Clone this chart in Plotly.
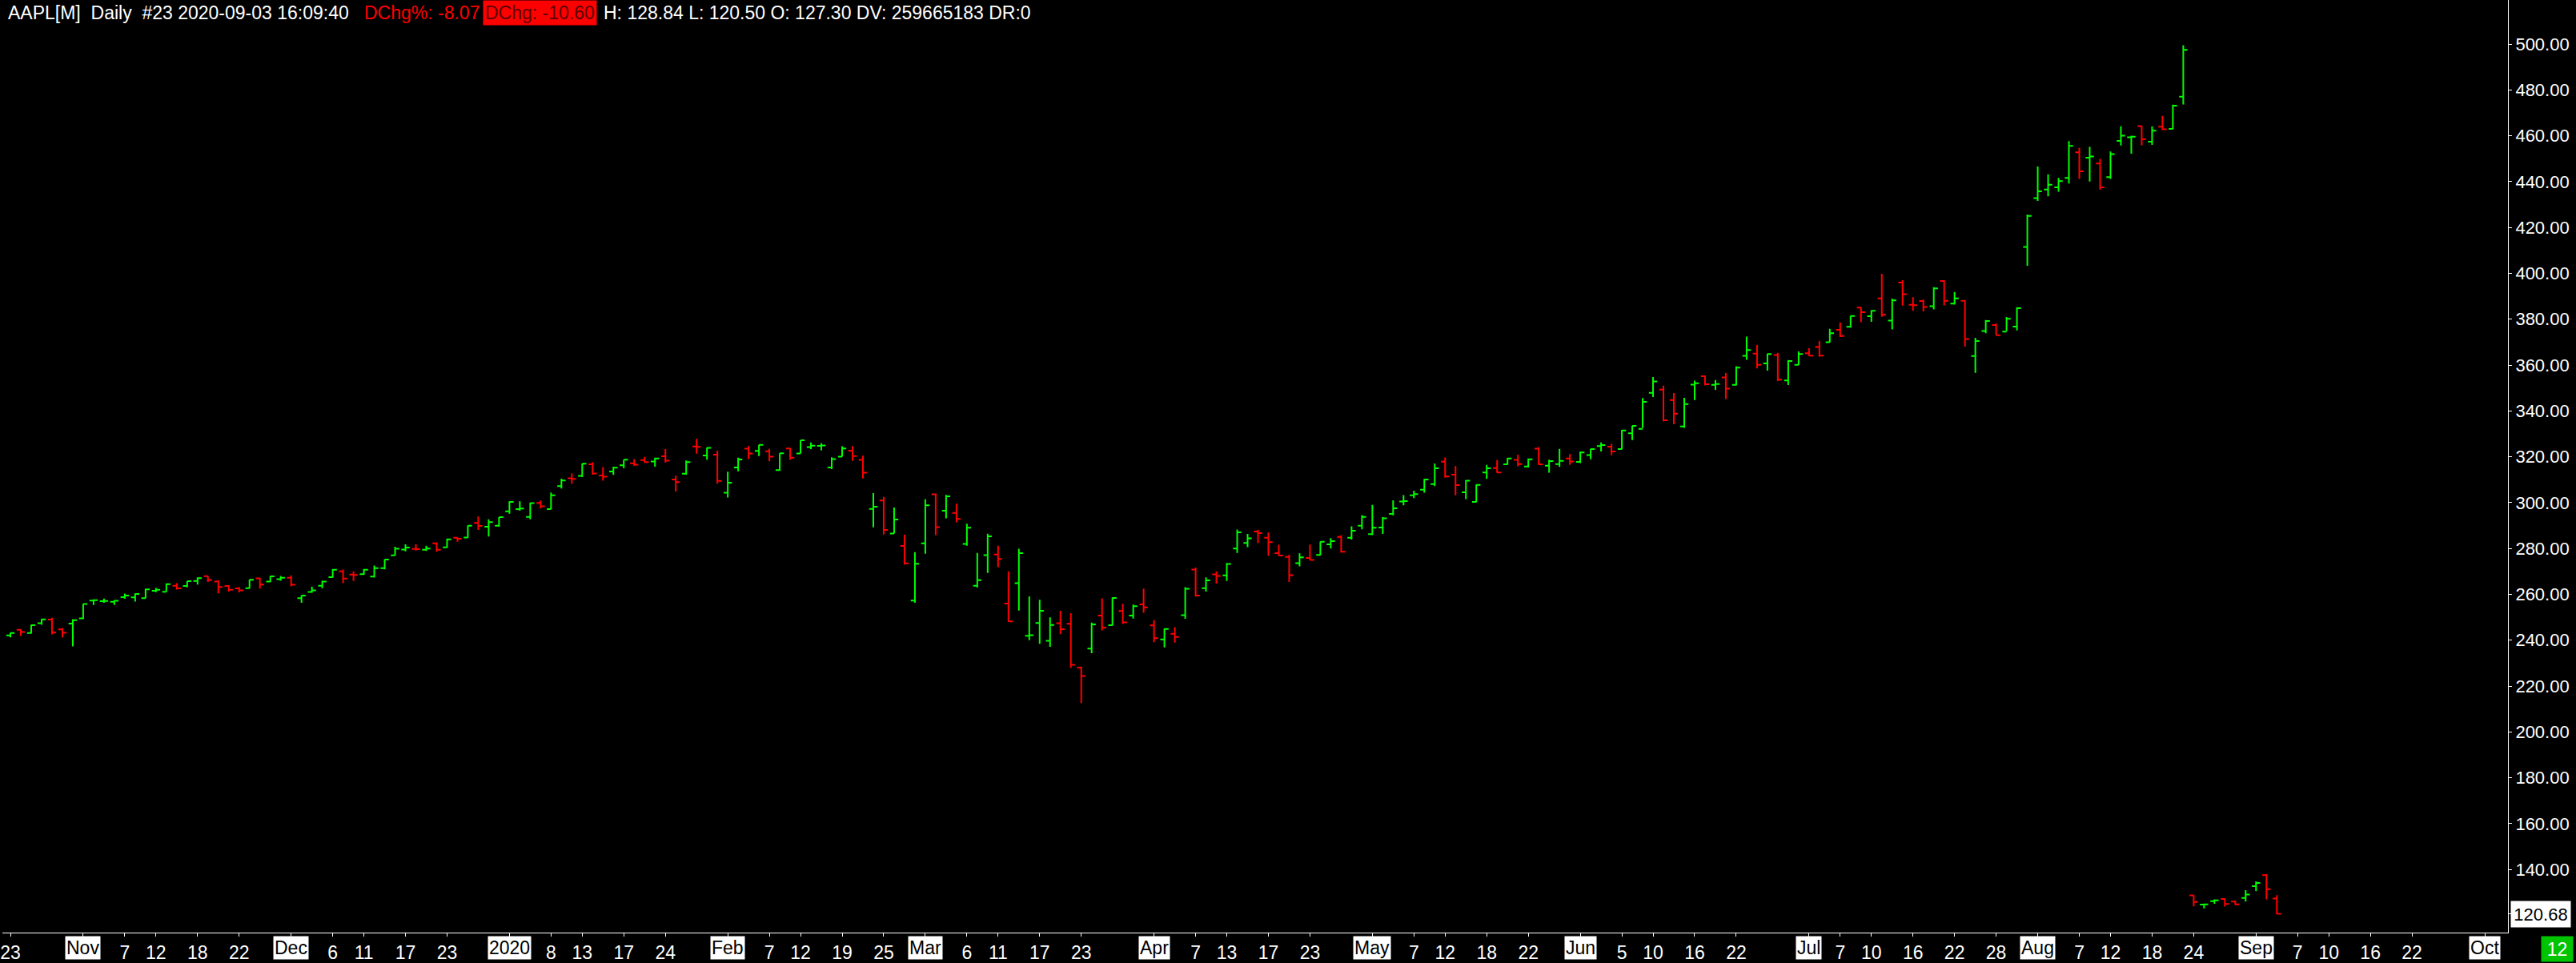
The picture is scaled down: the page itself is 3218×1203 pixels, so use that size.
import plotly.graph_objects as go
import pandas as pd

# ---------------- data (AAPL[M] daily) ----------------
dates = [
    # Oct 2019
    "2019-10-23", "2019-10-24", "2019-10-25", "2019-10-28", "2019-10-29", "2019-10-30", "2019-10-31",
    # Nov 2019
    "2019-11-01", "2019-11-04", "2019-11-05", "2019-11-06", "2019-11-07", "2019-11-08", "2019-11-11",
    "2019-11-12", "2019-11-13", "2019-11-14", "2019-11-15", "2019-11-18", "2019-11-19", "2019-11-20",
    "2019-11-21", "2019-11-22", "2019-11-25", "2019-11-26", "2019-11-27", "2019-11-29",
    # Dec 2019
    "2019-12-02", "2019-12-03", "2019-12-04", "2019-12-05", "2019-12-06", "2019-12-09", "2019-12-10",
    "2019-12-11", "2019-12-12", "2019-12-13", "2019-12-16", "2019-12-17", "2019-12-18", "2019-12-19",
    "2019-12-20", "2019-12-23", "2019-12-24", "2019-12-26", "2019-12-27", "2019-12-30", "2019-12-31",
    # Jan 2020
    "2020-01-02", "2020-01-03", "2020-01-06", "2020-01-07", "2020-01-08", "2020-01-09", "2020-01-10",
    "2020-01-13", "2020-01-14", "2020-01-15", "2020-01-16", "2020-01-17", "2020-01-21", "2020-01-22",
    "2020-01-23", "2020-01-24", "2020-01-27", "2020-01-28", "2020-01-29", "2020-01-30", "2020-01-31",
    # Feb 2020
    "2020-02-03", "2020-02-04", "2020-02-05", "2020-02-06", "2020-02-07", "2020-02-10", "2020-02-11",
    "2020-02-12", "2020-02-13", "2020-02-14", "2020-02-18", "2020-02-19", "2020-02-20", "2020-02-21",
    "2020-02-24", "2020-02-25", "2020-02-26", "2020-02-27", "2020-02-28",
    # Mar 2020
    "2020-03-02", "2020-03-03", "2020-03-04", "2020-03-05", "2020-03-06", "2020-03-09", "2020-03-10",
    "2020-03-11", "2020-03-12", "2020-03-13", "2020-03-16", "2020-03-17", "2020-03-18", "2020-03-19",
    "2020-03-20", "2020-03-23", "2020-03-24", "2020-03-25", "2020-03-26", "2020-03-27", "2020-03-30",
    "2020-03-31",
    # Apr 2020
    "2020-04-01", "2020-04-02", "2020-04-03", "2020-04-06", "2020-04-07", "2020-04-08", "2020-04-09",
    "2020-04-13", "2020-04-14", "2020-04-15", "2020-04-16", "2020-04-17", "2020-04-20", "2020-04-21",
    "2020-04-22", "2020-04-23", "2020-04-24", "2020-04-27", "2020-04-28", "2020-04-29", "2020-04-30",
    # May 2020
    "2020-05-01", "2020-05-04", "2020-05-05", "2020-05-06", "2020-05-07", "2020-05-08", "2020-05-11",
    "2020-05-12", "2020-05-13", "2020-05-14", "2020-05-15", "2020-05-18", "2020-05-19", "2020-05-20",
    "2020-05-21", "2020-05-22", "2020-05-26", "2020-05-27", "2020-05-28", "2020-05-29",
    # Jun 2020
    "2020-06-01", "2020-06-02", "2020-06-03", "2020-06-04", "2020-06-05", "2020-06-08", "2020-06-09",
    "2020-06-10", "2020-06-11", "2020-06-12", "2020-06-15", "2020-06-16", "2020-06-17", "2020-06-18",
    "2020-06-19", "2020-06-22", "2020-06-23", "2020-06-24", "2020-06-25", "2020-06-26", "2020-06-29",
    "2020-06-30",
    # Jul 2020
    "2020-07-01", "2020-07-02", "2020-07-06", "2020-07-07", "2020-07-08", "2020-07-09", "2020-07-10",
    "2020-07-13", "2020-07-14", "2020-07-15", "2020-07-16", "2020-07-17", "2020-07-20", "2020-07-21",
    "2020-07-22", "2020-07-23", "2020-07-24", "2020-07-27", "2020-07-28", "2020-07-29", "2020-07-30",
    "2020-07-31",
    # Aug 2020
    "2020-08-03", "2020-08-04", "2020-08-05", "2020-08-06", "2020-08-07", "2020-08-10", "2020-08-11",
    "2020-08-12", "2020-08-13", "2020-08-14", "2020-08-17", "2020-08-18", "2020-08-19", "2020-08-20",
    "2020-08-21",
    # after split
    "2020-08-24", "2020-08-25", "2020-08-26", "2020-08-27", "2020-08-28", "2020-08-31",
    "2020-09-01", "2020-09-02", "2020-09-03",
]

open_ = [
    242.10, 244.51, 243.16, 247.42, 248.97, 244.76, 247.24,
    249.54, 257.33, 257.05, 256.77, 258.74, 258.69, 258.30, 261.55, 261.13, 263.75, 263.68, 265.80,
    267.90, 265.54, 263.69, 262.59, 262.71, 266.94, 265.58, 266.60,
    267.27, 258.31, 261.07, 263.79, 267.48, 270.00, 268.60, 268.81, 267.78, 271.46, 277.00, 279.57,
    279.80, 279.50, 282.23, 280.53, 284.69, 284.82, 291.12, 289.46, 289.93,
    296.24, 297.15, 293.79, 299.84, 297.16, 307.24, 310.60, 311.64, 316.70, 311.85, 313.59, 316.27,
    317.19, 318.58, 317.92, 320.25, 310.06, 312.60, 324.45, 320.54, 320.93,
    304.30, 315.31, 323.52, 322.57, 322.37, 314.18, 323.60, 321.47, 324.19, 324.74, 315.36, 320.00,
    322.63, 318.62, 297.26, 300.95, 286.53, 281.10, 257.26,
    282.28, 303.67, 296.44, 295.52, 282.00, 263.75, 277.14, 277.39, 255.94, 264.89, 241.95, 247.51,
    239.77, 247.39, 247.18, 228.08, 236.36, 250.75, 246.52, 252.75, 250.74, 255.60,
    246.50, 240.34, 242.80, 250.90, 270.80, 262.74, 268.70, 268.31, 280.00, 282.40, 287.38, 284.69,
    277.95, 276.28, 273.61, 275.87, 277.20, 281.80, 285.08, 284.73, 289.96,
    286.25, 289.17, 295.06, 300.46, 303.22, 305.64, 308.10, 317.83, 312.15, 304.51, 300.35, 313.17,
    315.03, 316.68, 318.66, 315.77, 323.50, 316.14, 316.77, 319.25,
    317.75, 320.75, 324.66, 324.39, 323.35, 330.25, 332.14, 347.90, 349.31, 344.72, 333.25, 351.46,
    355.15, 351.41, 354.64, 351.34, 364.00, 365.00, 360.70, 364.41, 353.25, 360.08,
    365.12, 367.85, 370.00, 375.41, 376.72, 385.05, 381.34, 389.06, 379.36, 395.96, 386.25, 387.95,
    385.67, 396.69, 386.77, 387.99, 363.95, 374.84, 377.47, 374.56, 376.75, 411.54,
    432.80, 436.53, 437.51, 441.62, 452.82, 450.40, 447.88, 441.99, 457.72, 459.32, 464.25, 457.41,
    463.93, 463.00, 477.05,
    128.70, 124.70, 126.18, 127.14, 126.01, 127.58, 132.76, 137.59, 127.30,
]

high = [
    243.24, 244.80, 246.73, 249.25, 249.75, 245.30, 249.17,
    255.93, 257.85, 258.19, 257.49, 260.35, 260.44, 262.47, 262.79, 264.78, 264.88, 265.78, 267.43,
    268.00, 266.08, 264.01, 263.18, 266.44, 267.16, 267.98, 268.00,
    268.25, 259.53, 263.31, 265.89, 271.00, 270.80, 270.07, 271.10, 272.56, 275.30, 280.79, 281.77,
    281.90, 281.18, 282.65, 284.25, 284.89, 289.98, 293.97, 292.69, 293.68,
    300.60, 300.58, 299.96, 300.90, 304.44, 310.43, 312.67, 317.07, 317.57, 315.50, 315.70, 318.74,
    319.02, 319.99, 319.56, 323.33, 311.77, 318.40, 327.85, 324.09, 322.68,
    313.49, 319.64, 324.76, 325.22, 323.40, 321.55, 323.90, 327.22, 326.22, 325.98, 319.75, 324.57,
    324.65, 320.45, 304.18, 302.53, 297.88, 286.00, 278.41,
    301.44, 304.00, 303.40, 299.55, 290.82, 278.09, 286.44, 281.22, 270.00, 279.92, 259.08, 257.61,
    250.00, 252.84, 251.83, 228.50, 247.69, 258.25, 258.68, 255.87, 255.52, 262.49,
    248.72, 245.15, 245.70, 263.11, 271.70, 267.37, 270.07, 273.70, 288.25, 286.33, 288.20, 286.95,
    281.68, 277.25, 277.90, 281.75, 283.01, 284.54, 285.83, 289.67, 294.53,
    299.00, 293.69, 301.00, 303.24, 305.17, 310.35, 317.05, 319.69, 315.95, 309.79, 307.90, 316.50,
    318.52, 319.52, 320.89, 319.23, 324.24, 318.71, 323.44, 321.15,
    322.35, 323.44, 326.20, 325.62, 331.75, 333.60, 345.61, 354.77, 351.06, 347.80, 345.68, 353.20,
    355.40, 353.45, 356.56, 359.46, 372.38, 368.79, 365.00, 365.32, 362.17, 365.98,
    367.36, 370.47, 375.78, 378.62, 381.50, 385.27, 383.92, 399.82, 389.02, 396.99, 389.62, 388.59,
    394.00, 397.00, 391.90, 388.31, 371.88, 379.62, 378.20, 380.92, 385.19, 425.66,
    446.55, 443.16, 441.57, 457.65, 454.70, 455.10, 449.93, 453.10, 464.17, 460.00, 464.35, 464.00,
    468.65, 473.57, 499.47,
    128.79, 125.18, 126.99, 127.49, 126.44, 131.00, 134.80, 137.98, 128.84,
]

low = [
    241.22, 241.81, 242.88, 246.72, 242.57, 241.21, 237.26,
    249.16, 255.38, 256.32, 255.37, 258.11, 256.85, 258.28, 260.92, 261.07, 262.10, 263.01, 264.23,
    265.39, 260.40, 261.18, 260.84, 262.52, 262.50, 265.31, 265.90,
    263.45, 256.29, 260.68, 262.73, 267.30, 264.91, 265.86, 268.50, 267.32, 270.93, 276.98, 278.80,
    279.12, 278.95, 278.56, 280.37, 282.92, 284.70, 288.12, 285.22, 289.52,
    295.19, 296.50, 292.75, 297.48, 297.16, 306.20, 308.25, 311.15, 312.17, 309.55, 312.09, 315.00,
    316.00, 317.31, 315.65, 317.52, 304.88, 312.19, 321.38, 318.75, 308.29,
    302.22, 313.63, 318.95, 320.26, 318.00, 313.85, 318.71, 321.47, 323.35, 322.85, 314.61, 320.00,
    318.21, 310.50, 289.23, 286.13, 286.50, 272.96, 256.37,
    277.72, 285.80, 293.13, 291.41, 281.23, 263.00, 269.37, 271.86, 248.00, 252.95, 240.00, 238.40,
    237.12, 242.61, 228.00, 212.61, 234.30, 244.30, 246.36, 247.05, 249.40, 252.00,
    239.13, 236.90, 238.97, 249.38, 259.00, 261.23, 264.70, 265.83, 278.05, 280.63, 282.35, 276.86,
    276.85, 265.43, 272.20, 274.87, 277.00, 279.95, 278.20, 283.89, 288.35,
    285.85, 286.32, 294.46, 298.87, 301.97, 304.29, 307.24, 310.91, 303.21, 301.53, 300.21, 310.32,
    313.01, 316.52, 315.87, 315.35, 316.50, 313.09, 315.63, 316.47,
    317.21, 318.93, 322.30, 320.78, 323.23, 327.32, 332.58, 346.09, 335.48, 334.22, 332.58, 344.72,
    351.09, 349.22, 345.15, 351.15, 362.27, 358.52, 357.57, 353.02, 351.28, 360.00,
    363.91, 363.64, 369.87, 372.23, 376.36, 378.69, 378.82, 381.03, 375.51, 385.96, 383.62, 383.36,
    384.25, 386.00, 386.41, 368.04, 356.58, 373.92, 372.99, 374.85, 375.07, 403.30,
    431.57, 433.55, 435.59, 439.19, 441.17, 440.00, 436.43, 441.19, 455.71, 452.18, 455.85, 456.03,
    462.44, 462.93, 473.60,
    123.94, 123.05, 125.08, 123.83, 124.58, 126.00, 130.53, 127.00, 120.50,
]

close = [
    243.18, 243.58, 246.58, 249.05, 243.29, 243.26, 248.76,
    255.82, 257.50, 257.13, 257.24, 259.43, 260.14, 262.20, 261.96, 264.47, 262.64, 265.76, 267.10,
    266.29, 263.19, 262.01, 261.78, 266.37, 264.29, 267.84, 267.25,
    264.16, 259.45, 261.74, 265.58, 270.71, 266.92, 268.48, 270.77, 271.46, 275.15, 279.86, 280.41,
    279.74, 280.02, 279.44, 284.00, 284.27, 289.91, 289.80, 291.52, 293.65,
    300.35, 297.43, 299.80, 298.39, 303.19, 309.63, 310.33, 316.96, 312.68, 311.34, 315.24, 318.73,
    316.57, 317.70, 319.23, 318.31, 308.95, 317.69, 324.34, 323.87, 309.51,
    308.66, 318.85, 321.45, 325.21, 320.03, 321.55, 319.61, 327.20, 324.87, 324.95, 319.00, 323.62,
    320.30, 313.05, 298.18, 288.08, 292.65, 273.52, 273.36,
    298.81, 289.32, 302.74, 292.92, 289.03, 266.17, 285.34, 275.43, 248.23, 277.97, 242.21, 252.86,
    246.67, 244.78, 229.24, 224.37, 246.88, 245.52, 258.44, 247.74, 254.81, 254.29,
    240.91, 244.93, 241.41, 262.47, 259.43, 266.07, 267.99, 273.25, 287.05, 284.43, 286.69, 282.80,
    276.93, 268.37, 276.10, 275.03, 282.97, 283.17, 278.58, 287.73, 293.80,
    289.07, 293.16, 297.56, 300.63, 303.74, 310.13, 315.01, 311.41, 307.65, 309.54, 307.71, 314.96,
    313.14, 319.23, 316.85, 318.89, 316.73, 318.11, 318.25, 317.94,
    321.85, 323.34, 325.12, 322.32, 331.50, 333.46, 343.99, 352.84, 335.90, 338.80, 342.99, 352.08,
    351.59, 351.73, 349.72, 358.87, 366.53, 360.06, 364.84, 353.63, 361.78, 364.80,
    364.11, 364.11, 373.85, 372.69, 381.37, 383.01, 383.68, 381.91, 388.23, 390.90, 386.09, 385.31,
    393.43, 388.00, 389.09, 371.38, 370.46, 379.24, 373.01, 380.16, 384.76, 425.04,
    435.75, 438.66, 440.25, 455.61, 444.45, 450.91, 437.50, 452.04, 460.04, 459.63, 458.43, 462.25,
    462.83, 473.10, 497.48,
    125.86, 124.83, 126.52, 125.01, 124.81, 129.04, 134.18, 131.40, 120.68,
]

# x-axis labels (date -> label); month labels are drawn boxed
day_tick_dates = ["2019-10-23", "2019-11-07", "2019-11-12", "2019-11-18", "2019-11-22",
                  "2019-12-06", "2019-12-11", "2019-12-17", "2019-12-23",
                  "2020-01-08", "2020-01-13", "2020-01-17", "2020-01-24",
                  "2020-02-07", "2020-02-12", "2020-02-19", "2020-02-25",
                  "2020-03-06", "2020-03-11", "2020-03-17", "2020-03-23",
                  "2020-04-07", "2020-04-13", "2020-04-17", "2020-04-23",
                  "2020-05-07", "2020-05-12", "2020-05-18", "2020-05-22",
                  "2020-06-05", "2020-06-10", "2020-06-16", "2020-06-22",
                  "2020-07-07", "2020-07-10", "2020-07-16", "2020-07-22", "2020-07-28",
                  "2020-08-07", "2020-08-12", "2020-08-18", "2020-08-24",
                  "2020-09-07", "2020-09-10", "2020-09-16", "2020-09-22"]
day_tick_labels = ["23", "7", "12", "18", "22",
                   "6", "11", "17", "23",
                   "8", "13", "17", "24",
                   "7", "12", "19", "25",
                   "6", "11", "17", "23",
                   "7", "13", "17", "23",
                   "7", "12", "18", "22",
                   "5", "10", "16", "22",
                   "7", "10", "16", "22", "28",
                   "7", "12", "18", "24",
                   "7", "10", "16", "22"]
month_tick_dates = ["2019-11-01", "2019-12-02", "2020-01-02", "2020-02-03", "2020-03-02", "2020-04-01",
                    "2020-05-01", "2020-06-01", "2020-07-01", "2020-08-03", "2020-09-01", "2020-10-01"]
month_tick_labels = ["Nov", "Dec", "2020", "Feb", "Mar", "Apr", "May", "Jun", "Jul", "Aug", "Sep", "Oct"]

y_tick_values = [140, 160, 180, 200, 220, 240, 260, 280, 300, 320, 340, 360, 380, 400, 420, 440, 460, 480, 500]
last_price = 120.68

# ---------------- axis calendar (trading bars + future weekdays) ----------------
future_days = [d.strftime("%Y-%m-%d") for d in pd.bdate_range("2020-09-04", "2020-10-09")]
calendar = dates + future_days
pos = {d: i for i, d in enumerate(calendar)}
x = [pos[d] for d in dates]

W, H = 3218, 1203
ML, MR, MT, MB = 0, 85, 0, 37
PW = W - ML - MR
FONT = "Liberation Sans, Arial, sans-serif"
FS = 23

fig = go.Figure()
fig.add_trace(go.Ohlc(
    x=x, open=open_, high=high, low=low, close=close,
    increasing=dict(line=dict(color="#00FF00", width=2)),
    decreasing=dict(line=dict(color="#FF0000", width=2)),
    tickwidth=0.4, showlegend=False, hoverinfo="skip",
))

tickvals = [pos[d] for d in day_tick_dates] + [pos[d] for d in month_tick_dates]
ticktext = day_tick_labels + [""] * len(month_tick_dates)

annotations = []
for d, lab in zip(month_tick_dates, month_tick_labels):
    annotations.append(dict(
        x=pos[d], xref="x", y=0, yref="paper", yanchor="top", xanchor="center",
        yshift=-4, text=lab, showarrow=False, bgcolor="#FFFFFF", borderpad=1,
        font=dict(family=FONT, size=FS, color="#000000")))

# current price marker
annotations.append(dict(
    x=1, xref="paper", xanchor="left", xshift=3, y=last_price, yref="y", yanchor="middle",
    text=f"{last_price:.2f}", showarrow=False, bgcolor="#FFFFFF", width=72, height=30,
    font=dict(family=FONT, size=22, color="#000000")))

# green box at the bottom right
annotations.append(dict(
    x=(3195 - ML) / PW, xref="paper", xanchor="center", y=0, yref="paper", yanchor="top",
    yshift=-4, text="12", showarrow=False, bgcolor="#00C400", width=37, height=29,
    font=dict(family=FONT, size=FS, color="#FFFFFF")))

# header
hdr = [
    (4, "AAPL[M]\u00a0\u00a0Daily\u00a0\u00a0#23 2020-09-03 16:09:40", "#FFFFFF", None),
    (449, "DChg%: -8.07", "#FF0000", None),
    (601, "DChg: -10.60", "#5A0000", "#FF0000"),
    (749, "H: 128.84 L: 120.50 O: 127.30 DV: 259665183 DR:0", "#FFFFFF", None),
]
for px, txt, col, bg in hdr:
    a = dict(x=(px - ML) / PW, xref="paper", xanchor="left", y=1, yref="paper", yanchor="top",
             text=txt, showarrow=False, borderpad=2,
             font=dict(family=FONT, size=FS, color=col))
    if bg:
        a["bgcolor"] = bg
    annotations.append(a)

fig.update_layout(
    width=W, height=H,
    margin=dict(l=ML, r=MR, t=MT, b=MB, pad=0),
    paper_bgcolor="#000000", plot_bgcolor="#000000",
    annotations=annotations,
    xaxis=dict(
        range=[-0.77, 240.23], rangeslider=dict(visible=False),
        tickmode="array", tickvals=tickvals, ticktext=ticktext,
        ticks="outside", ticklen=4, tickwidth=1, tickcolor="#FFFFFF",
        ticklabeloverflow="allow",
        showline=True, linecolor="#FFFFFF", linewidth=1,
        showgrid=False, zeroline=False,
        tickfont=dict(family=FONT, size=FS, color="#FFFFFF"),
    ),
    yaxis=dict(
        side="right", range=[112.5, 519.2],
        tickmode="array", tickvals=y_tick_values + [last_price],
        ticktext=[f"{v:.2f}" for v in y_tick_values] + [""],
        ticks="outside", ticklen=4, tickwidth=1, tickcolor="#FFFFFF",
        showline=True, linecolor="#FFFFFF", linewidth=1,
        showgrid=False, zeroline=False,
        tickfont=dict(family=FONT, size=22, color="#FFFFFF"),
    ),
)

fig.write_html(
    "out.html",
    config={"displayModeBar": False},
    post_script="document.body.style.margin='0';document.body.style.overflow='hidden';",
)
